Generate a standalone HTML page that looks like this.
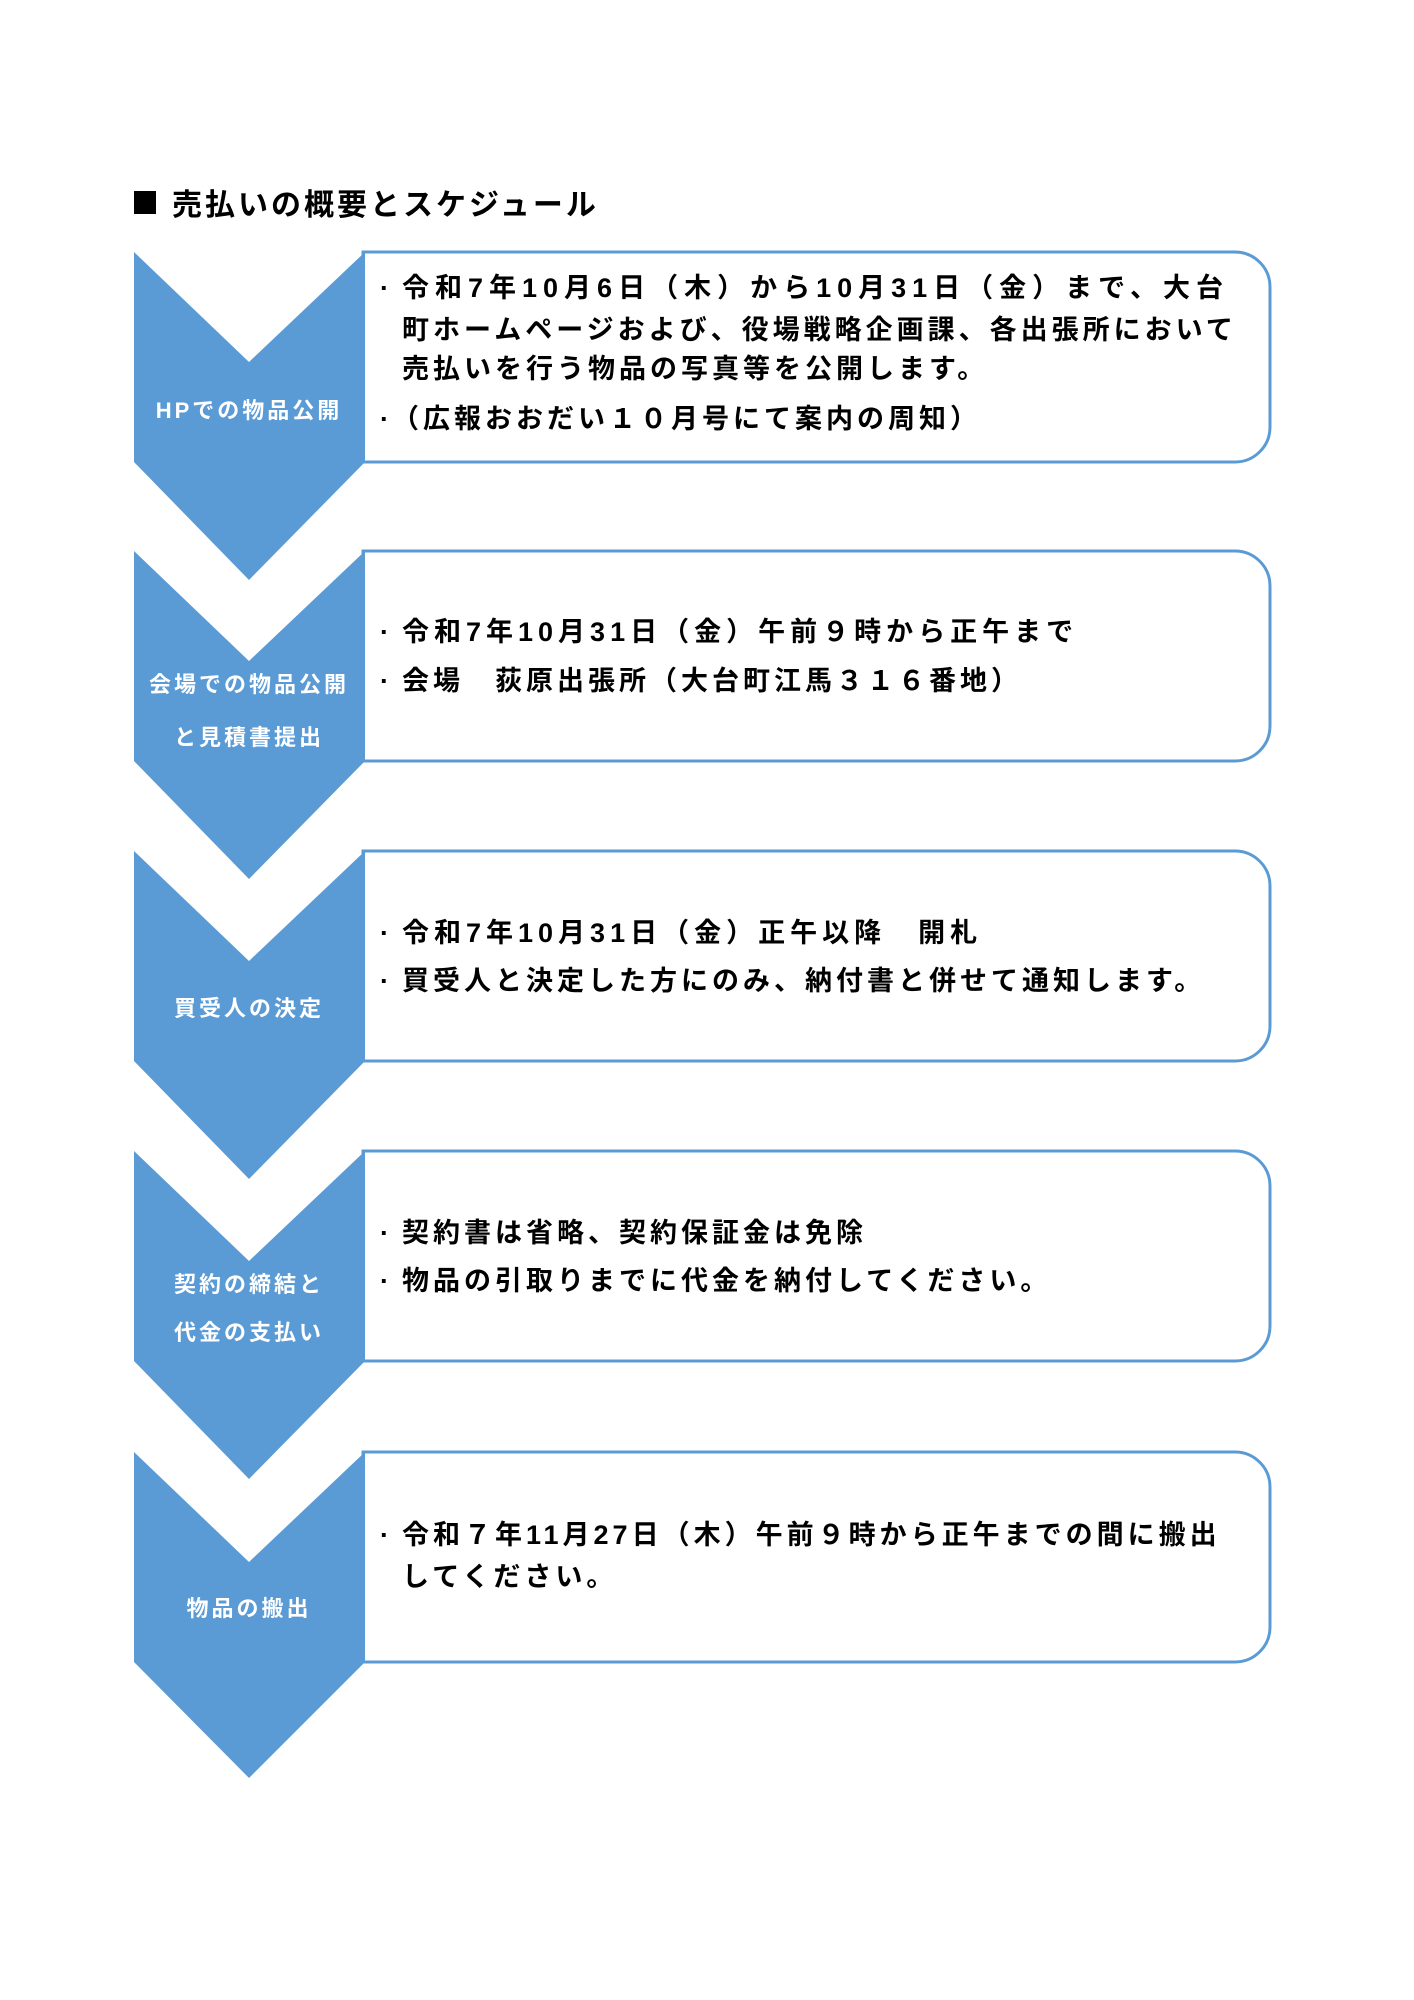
<!DOCTYPE html>
<html><head><meta charset="utf-8"><style>
html,body{margin:0;padding:0;background:#fff;}
body{width:1414px;height:2000px;position:relative;overflow:hidden;font-family:"Liberation Sans","Noto Sans CJK JP",sans-serif;}
.t{position:absolute;font-weight:bold;font-size:27px;letter-spacing:4px;line-height:40px;height:40px;white-space:nowrap;color:#000;}
.b{position:absolute;font-weight:bold;font-size:27px;line-height:40px;height:40px;color:#000;}
.l{position:absolute;left:134px;width:230px;text-align:center;font-weight:bold;font-size:22px;letter-spacing:3px;line-height:30px;height:30px;color:#fff;white-space:nowrap;}
</style></head><body>
<svg width="1414" height="2000" style="position:absolute;left:0;top:0">
<rect x="134" y="191" width="22" height="23" fill="#000"/>
<g fill="#fff" stroke="#5b9bd5" stroke-width="3">
<path d="M363 252 H1235 A35 35 0 0 1 1270 287 V427 A35 35 0 0 1 1235 462 H363 Z"/>
<path d="M363 551 H1235 A35 35 0 0 1 1270 586 V726 A35 35 0 0 1 1235 761 H363 Z"/>
<path d="M363 851 H1235 A35 35 0 0 1 1270 886 V1026 A35 35 0 0 1 1235 1061 H363 Z"/>
<path d="M363 1151 H1235 A35 35 0 0 1 1270 1186 V1326 A35 35 0 0 1 1235 1361 H363 Z"/>
<path d="M363 1452 H1235 A35 35 0 0 1 1270 1487 V1627 A35 35 0 0 1 1235 1662 H363 Z"/>
</g>
<g fill="#5b9bd5">
<path d="M134 252 L249 362 L365 252 V462 L249 580 L134 462 Z"/>
<path d="M134 551 L249 661 L365 551 V761 L249 879 L134 761 Z"/>
<path d="M134 851 L249 961 L365 851 V1061 L249 1179 L134 1061 Z"/>
<path d="M134 1151 L249 1261 L365 1151 V1361 L249 1479 L134 1361 Z"/>
<path d="M134 1452 L249 1562 L365 1452 V1662 L249 1778 L134 1662 Z"/>
</g>
</svg>
<div class="t" style="left:172px;top:186px;font-size:30px;letter-spacing:3px;">売払いの概要とスケジュール</div>

<div class="l" style="top:396px">HPでの物品公開</div>
<div class="b" style="left:380px;top:268px">·</div><div class="t" style="left:402px;top:268px;letter-spacing:6px">令和7年10月6日（木）から10月31日（金）まで、大台</div>
<div class="t" style="left:402px;top:310px">町ホームページおよび、役場戦略企画課、各出張所において</div>
<div class="t" style="left:402px;top:349px">売払いを行う物品の写真等を公開します。</div>
<div class="b" style="left:380px;top:399px">·</div><div class="t" style="left:392px;top:399px">（広報おおだい１０月号にて案内の周知）</div>

<div class="l" style="top:670px">会場での物品公開</div>
<div class="l" style="top:723px">と見積書提出</div>
<div class="b" style="left:380px;top:612px">·</div><div class="t" style="left:402px;top:612px;letter-spacing:5px">令和7年10月31日（金）午前９時から正午まで</div>
<div class="b" style="left:380px;top:661px">·</div><div class="t" style="left:402px;top:661px">会場　荻原出張所（大台町江馬３１６番地）</div>

<div class="l" style="top:994px">買受人の決定</div>
<div class="b" style="left:380px;top:913px">·</div><div class="t" style="left:402px;top:913px;letter-spacing:5px">令和7年10月31日（金）正午以降　開札</div>
<div class="b" style="left:380px;top:961px">·</div><div class="t" style="left:402px;top:961px">買受人と決定した方にのみ、納付書と併せて通知します。</div>

<div class="l" style="top:1270px">契約の締結と</div>
<div class="l" style="top:1318px">代金の支払い</div>
<div class="b" style="left:380px;top:1213px">·</div><div class="t" style="left:402px;top:1213px">契約書は省略、契約保証金は免除</div>
<div class="b" style="left:380px;top:1261px">·</div><div class="t" style="left:402px;top:1261px">物品の引取りまでに代金を納付してください。</div>

<div class="l" style="top:1594px">物品の搬出</div>
<div class="b" style="left:380px;top:1515px">·</div><div class="t" style="left:402px;top:1515px;letter-spacing:4px">令和７年11月27日（木）午前９時から正午までの間に搬出</div>
<div class="t" style="left:402px;top:1557px">してください。</div>
</body></html>
